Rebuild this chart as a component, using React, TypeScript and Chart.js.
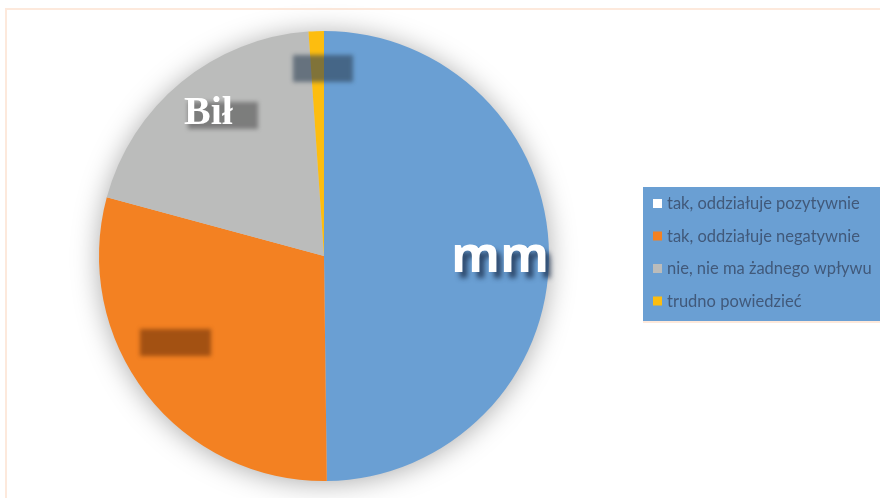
import React, { useEffect, useRef } from "react";
import { Chart, registerables } from "chart.js";

Chart.register(...registerables);

const categories = [
  "tak, oddziałuje pozytywnie",
  "tak, oddziałuje negatywnie",
  "nie, nie ma żadnego wpływu",
  "trudno powiedzieć",
];
const values = [49.8, 29.4, 19.7, 1.1];
const sliceColors = ["#6a9fd3", "#f38122", "#bbbcbb", "#fdbd0f"];
const markerColors = ["#ffffff", "#f38122", "#bbbcbb", "#fdbd0f"];
const sliceLabels = ["mm", "", "Bił", ""];

const framePlugin = {
  id: "frame",
  beforeDraw(chart: any) {
    const ctx = chart.ctx;
    ctx.save();
    ctx.fillStyle = "#ffffff";
    ctx.fillRect(0, 0, chart.width, chart.height);
    ctx.strokeStyle = "#fde9dc";
    ctx.lineWidth = 2;
    ctx.beginPath();
    ctx.moveTo(6, chart.height);
    ctx.lineTo(6, 9);
    ctx.lineTo(chart.width, 9);
    ctx.stroke();
    ctx.restore();
  },
  beforeDatasetsDraw(chart: any) {
    const arc = chart.getDatasetMeta(0).data[0];
    if (!arc) return;
    const ctx = chart.ctx;
    ctx.save();
    ctx.shadowColor = "rgba(0,0,0,0.35)";
    ctx.shadowBlur = 28;
    ctx.shadowOffsetX = 0;
    ctx.shadowOffsetY = 2;
    ctx.fillStyle = "#cccccc";
    ctx.beginPath();
    ctx.arc(arc.x, arc.y, arc.outerRadius - 1, 0, Math.PI * 2);
    ctx.fill();
    ctx.restore();
  },
};

const labelsPlugin = {
  id: "sliceLabels",
  afterDatasetsDraw(chart: any) {
    const ctx = chart.ctx;
    const meta = chart.getDatasetMeta(0);
    const arcs = meta.data;
    const cx = arcs[0].x;
    const cy = arcs[0].y;
    const r = arcs[0].outerRadius;
    ctx.save();
    const blurBox = (x: number, y: number, w: number, h: number, color: string) => {
      ctx.save();
      ctx.filter = "blur(2px)";
      ctx.fillStyle = color;
      ctx.fillRect(x, y, w, h);
      ctx.restore();
    };
    blurBox(cx - 31, cy - r + 24, 60, 27, "rgba(45,65,85,0.6)");
    blurBox(cx - 184, cy + 73, 71, 27, "rgba(120,55,10,0.65)");
    blurBox(cx - 136, cy - 154, 70, 27, "rgba(90,90,90,0.65)");

    ctx.font = "bold 40px 'Liberation Serif', serif";
    ctx.textAlign = "left";
    ctx.textBaseline = "alphabetic";
    ctx.fillStyle = "#ffffff";
    ctx.fillText(sliceLabels[2], cx - 140, cy - 132);

    ctx.save();
    ctx.shadowColor = "rgba(30,50,80,0.8)";
    ctx.shadowBlur = 5;
    ctx.shadowOffsetX = 5;
    ctx.shadowOffsetY = 6;
    ctx.font = "bold 50px 'Open Sans', sans-serif";
    ctx.textAlign = "center";
    ctx.fillStyle = "#ffffff";
    ctx.fillText(sliceLabels[0], cx + 176, cy + 16);
    ctx.restore();
    ctx.restore();
  },
};

const legendPlugin = {
  id: "boxLegend",
  afterDraw(chart: any) {
    const ctx = chart.ctx;
    const x = 643;
    const y = 187;
    const w = chart.width - x;
    const h = 134;
    ctx.save();
    ctx.fillStyle = "#6a9fd3";
    ctx.fillRect(x, y, w, h);
    ctx.strokeStyle = "#fde9dc";
    ctx.lineWidth = 2;
    ctx.beginPath();
    ctx.moveTo(x, y + h + 1);
    ctx.lineTo(chart.width, y + h + 1);
    ctx.stroke();
    ctx.font = "16.5px Lato, sans-serif";
    ctx.textBaseline = "middle";
    ctx.textAlign = "left";
    categories.forEach((c, i) => {
      const ry = 204 + i * 32.5;
      ctx.fillStyle = markerColors[i];
      ctx.fillRect(x + 10, ry - 5, 9, 9);
      ctx.fillStyle = "#41597a";
      ctx.fillText(c, x + 24, ry);
    });
    ctx.restore();
  },
};

export default function App() {
  const ref = useRef<HTMLCanvasElement | null>(null);
  useEffect(() => {
    document.body.style.margin = "0";
    const chart = new Chart(ref.current as HTMLCanvasElement, {
      type: "pie",
      data: {
        labels: categories,
        datasets: [
          {
            data: values,
            backgroundColor: sliceColors,
            borderWidth: 0,
          },
        ],
      },
      options: {
        animation: false,
        responsive: false,
        rotation: 0,
        layout: { padding: { left: 99, right: 331, top: 31, bottom: 17 } },
        plugins: {
          legend: { display: false },
          tooltip: { enabled: false },
        },
      },
      plugins: [framePlugin, labelsPlugin, legendPlugin],
    });
    return () => chart.destroy();
  }, []);
  return (
    <div style={{ position: "fixed", left: 0, top: 0, width: 880, height: 498 }}>
      <canvas ref={ref} width={880} height={498} />
    </div>
  );
}
